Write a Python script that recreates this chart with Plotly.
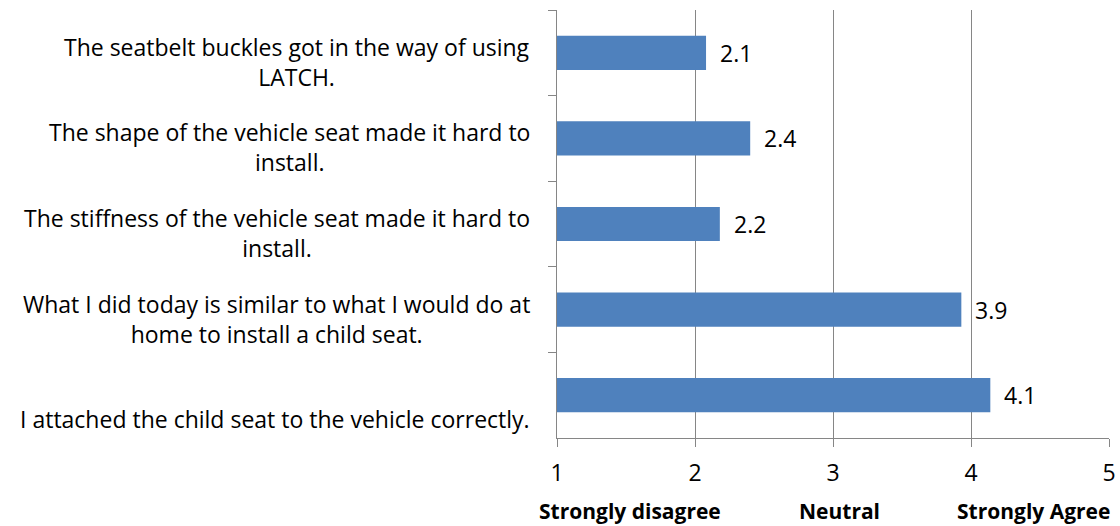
import plotly.graph_objects as go

# ---------------------------- Data ------------------------------- #

statements = [
    "The seatbelt buckles got in the way of using<br>LATCH.",
    "The shape of the vehicle seat made it hard to<br>install.",
    "The stiffness of the vehicle seat made it hard to<br>install.",
    "What I did today is similar to what I would do at<br>home to install a child seat.",
    "I attached the child seat to the vehicle correctly.",
]
mean_scores = [2.08, 2.40, 2.18, 3.93, 4.14]
score_labels = ["2.1", "2.4", "2.2", "3.9", "4.1"]

scale_ticks = [1, 2, 3, 4, 5]
anchor_text = ["Strongly disagree", "Neutral", "Strongly Agree"]
anchor_pos = [1.53, 3.05, 4.45]

FONT = "Open Sans"
FS = 23
GREY = "#868686"

# ---------------------------- Figure ------------------------------- #

fig = go.Figure()
fig.add_trace(go.Bar(
    x=mean_scores,
    y=statements,
    orientation="h",
    width=0.4,
    marker=dict(color="#4F81BD", line=dict(width=0)),
    hoverinfo="skip",
))

# statement labels, right aligned against the axis, last line a bit below the bar
for s in statements:
    fig.add_annotation(x=0, xref="paper", y=s, yref="y", text=s, showarrow=False,
                       xanchor="right", yanchor="bottom", align="center",
                       xshift=-25, yshift=-42,
                       font=dict(family=FONT, size=FS, color="black"))

# value labels next to the bars
for v, t, s in zip(mean_scores, score_labels, statements):
    fig.add_annotation(x=v, y=s, text=t, showarrow=False, xanchor="left",
                       xshift=12, font=dict(family=FONT, size=FS, color="black"))

# scale anchors under the x axis
for t, p in zip(anchor_text, anchor_pos):
    fig.add_annotation(x=p, xref="x", y=0, yref="paper", text="<b>" + t + "</b>",
                       showarrow=False, yanchor="middle", yshift=-73,
                       font=dict(family=FONT, size=21, color="black"))

fig.update_layout(
    width=1120, height=526,
    margin=dict(l=557, r=11, t=10, b=88),
    paper_bgcolor="white", plot_bgcolor="white",
    showlegend=False,
    bargap=0.6,
)
fig.update_xaxes(range=[1, 5], tickvals=scale_ticks, showgrid=True, gridcolor=GREY, gridwidth=1,
                 showline=True, linecolor=GREY, linewidth=1, ticks="outside", ticklen=8,
                 tickcolor=GREY, zeroline=False, automargin=False,
                 tickfont=dict(family=FONT, size=FS, color="black"), ticklabelstandoff=6)
fig.update_yaxes(type="category", categoryorder="array", categoryarray=statements,
                 autorange="reversed", tickson="boundaries", ticks="outside", ticklen=8,
                 tickcolor=GREY, showticklabels=False, showgrid=False, automargin=False,
                 showline=True, linecolor=GREY, linewidth=1, zeroline=False)

# drop the default page margin so the figure fills the window exactly
fig.write_html("out.html", config={"displayModeBar": False, "responsive": False},
               post_script="document.body.style.margin='0';document.body.style.overflow='hidden';")
